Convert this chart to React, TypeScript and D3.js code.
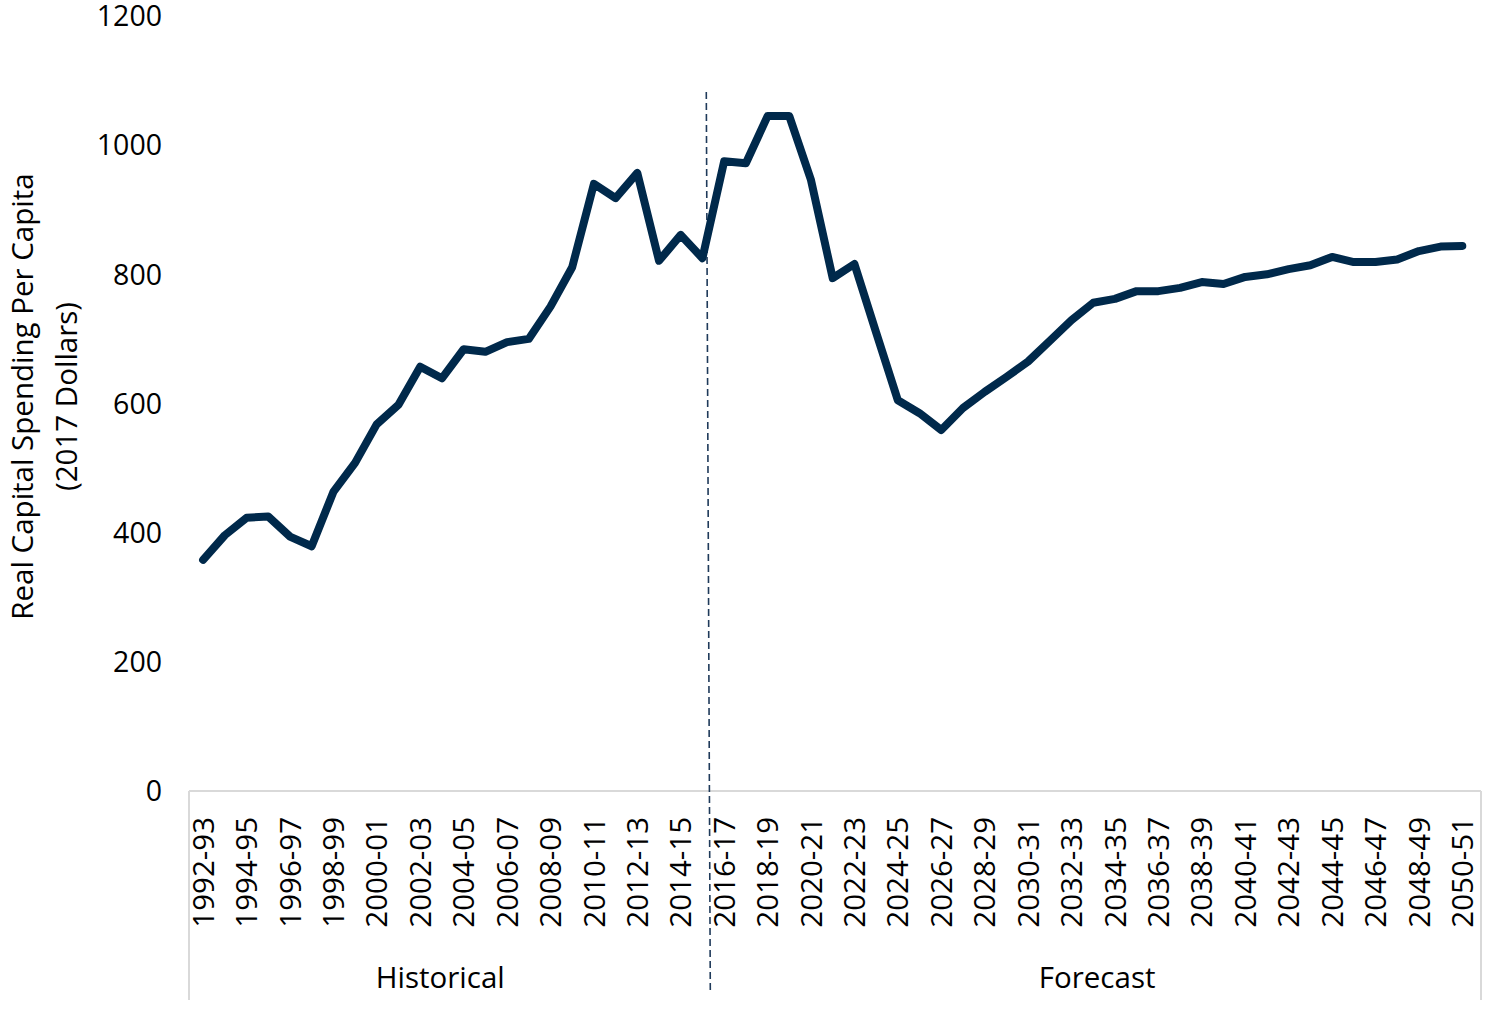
import React from "react";
import * as d3 from "d3";

const years: number[] = d3.range(1992, 2051);
const categories: string[] = years.map((y) => `${y}-${String((y + 1) % 100).padStart(2, "0")}`);

const spending: number[] = [
  358, 396, 423, 425, 394, 379, 463, 508, 568, 598,
  657, 639, 684, 680, 695, 700, 750, 811, 940, 918,
  957, 821, 861, 825, 975, 972, 1045, 1045, 946, 794,
  816, 710, 605, 585, 559, 593, 618, 641, 665, 697,
  729, 756, 762, 774, 774, 779, 788, 785, 796, 800,
  808, 814, 827, 819, 819, 823, 836, 843, 844,
];

const yTicks: number[] = [0, 200, 400, 600, 800, 1000, 1200];
const groups = [
  { name: "Historical", first: "1992-93", last: "2015-16" },
  { name: "Forecast", first: "2016-17", last: "2050-51" },
];
const yTitle: string[] = ["Real Capital Spending Per Capita", "(2017 Dollars)"];

const W = 1500;
const H = 1012;
const FONT = "'Open Sans', 'Noto Sans', sans-serif";
const LINE = "#00294B";
const FS = 29.5;

export default function App() {
  const axisLeft = 189;
  const axisRight = 1481;
  const axisY = 791;

  const x = d3
    .scalePoint<string>()
    .domain(categories)
    .range([axisLeft, axisRight])
    .padding(0.755)
    .align(0.43);
  const y = d3.scaleLinear().domain([0, 1200]).range([axisY, 16]);

  const line = d3
    .line<number>()
    .x((_, i) => x(categories[i]) as number)
    .y((d) => y(d));

  const step = x.step();
  const divX =
    ((x(groups[0].last) as number) + (x(groups[1].first) as number)) / 2;

  return (
    <div style={{ position: "absolute", left: 0, top: 0 }}>
      <svg width={W} height={H} style={{ display: "block", background: "#fff" }}>
        {/* y tick labels */}
        {yTicks.map((t) => (
          <text
            key={t}
            x={162}
            y={y(t)}
            dy="0.36em"
            textAnchor="end"
            fontFamily={FONT}
            fontSize={28.5}
            fill="#000"
          >
            {t}
          </text>
        ))}

        {/* y title */}
        <g transform={`translate(0, ${(y(0) + y(1200)) / 2 - 7}) rotate(-90)`}>
          <text x={0} y={33} textAnchor="middle" fontFamily={FONT} fontSize={FS} fill="#000">
            {yTitle[0]}
          </text>
          <text x={0} y={77} textAnchor="middle" fontFamily={FONT} fontSize={FS} fill="#000">
            {yTitle[1]}
          </text>
        </g>

        {/* axis line and group frame */}
        <line x1={axisLeft} x2={axisRight} y1={axisY} y2={axisY} stroke="#d9d9d9" strokeWidth={2} />
        <line x1={axisLeft} x2={axisLeft} y1={axisY} y2={1000} stroke="#d9d9d9" strokeWidth={2} />
        <line x1={axisRight} x2={axisRight} y1={axisY} y2={1000} stroke="#d9d9d9" strokeWidth={2} />

        {/* category labels */}
        {categories.map((c, i) =>
          i % 2 === 0 ? (
            <text
              key={c}
              transform={`translate(${x(c)}, 817) rotate(-90)`}
              dy="0.36em"
              textAnchor="end"
              fontFamily={FONT}
              fontSize={FS}
              fill="#000"
            >
              {c}
            </text>
          ) : null
        )}

        {/* group labels */}
        {groups.map((g, gi) => {
          const x0 = gi === 0 ? axisLeft : divX;
          const x1 = gi === 0 ? divX : axisRight;
          const cx = gi === 0 ? (x0 + x1) / 2 - step / 2 : (x0 + x1) / 2;
          return (
            <text
              key={g.name}
              x={cx}
              y={988}
              textAnchor="middle"
              fontFamily={FONT}
              fontSize={FS}
              fill="#000"
            >
              {g.name}
            </text>
          );
        })}

        {/* divider */}
        <line
          x1={divX - 7}
          x2={divX - 3}
          y1={92}
          y2={990}
          stroke="#1F3A5A"
          strokeWidth={1.6}
          strokeDasharray="7,4"
        />

        {/* series */}
        <path
          d={line(spending) || ""}
          fill="none"
          stroke={LINE}
          strokeWidth={8}
          strokeLinejoin="round"
          strokeLinecap="round"
        />
      </svg>
    </div>
  );
}
